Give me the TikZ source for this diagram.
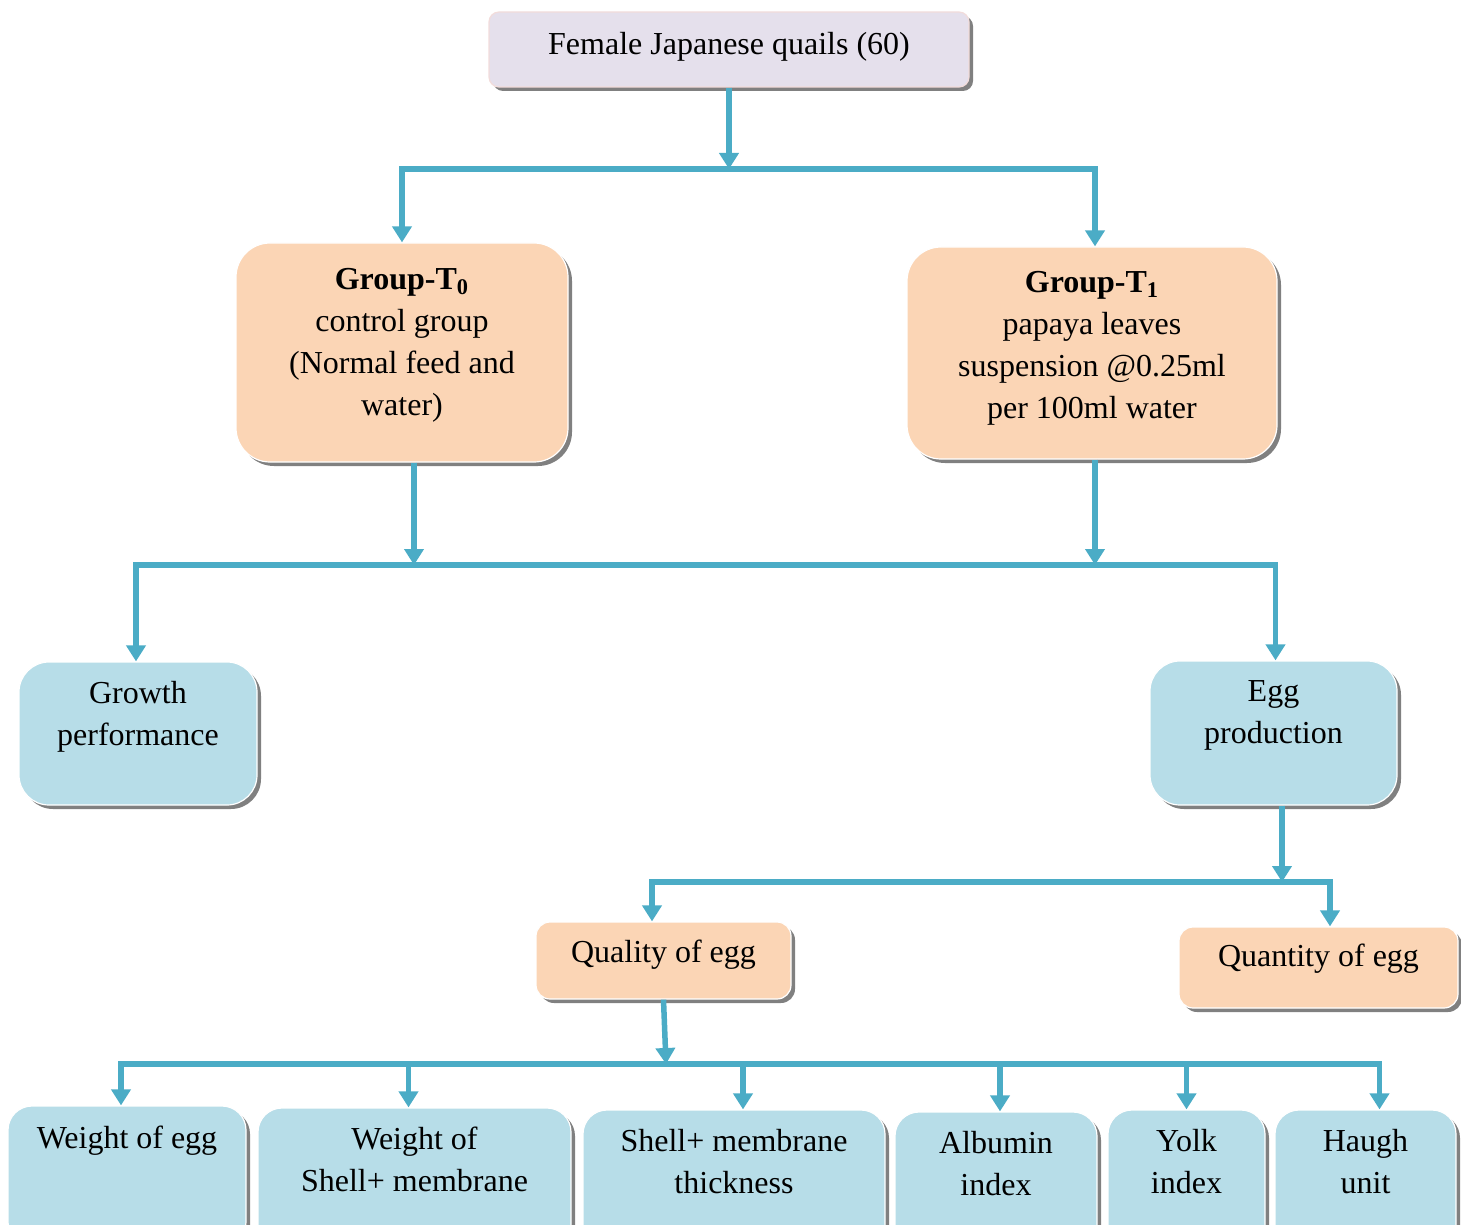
\documentclass[tikz,border=0pt]{standalone}
\usepackage{fontspec}
\setmainfont{Liberation Serif}
\usetikzlibrary{positioning,shapes,shadows,arrows.meta}
\definecolor{quailbg}{HTML}{E5E0EC}
\definecolor{quailline}{HTML}{F2DCDB}
\definecolor{peach}{HTML}{FBD5B5}
\definecolor{aqua}{HTML}{B7DDE8}
\definecolor{flowblue}{HTML}{4BACC6}
\definecolor{shadowgray}{HTML}{808080}

\begin{document}
\begin{tikzpicture}[x=0.5pt, y=-0.5pt,
    font=\fontsize{16}{21}\selectfont,
    box/.style={rectangle, align=center, inner sep=2pt, draw=white, line width=0.6pt,
        drop shadow={shadow xshift=2pt, shadow yshift=-2pt, fill=shadowgray, opacity=1}},
    titlebox/.style={box, fill=quailbg, draw=quailline, rounded corners=5pt, text depth=6.5pt},
    groupbox/.style={box, fill=peach, rounded corners=17pt},
    eggbox/.style={box, fill=peach, rounded corners=7pt},
    resultbox/.style={box, fill=aqua, rounded corners=15pt, text depth=20.5pt},
    measurebox/.style={box, fill=aqua, rounded corners=12pt, minimum height=70pt, text depth=19pt},
    flow/.style={draw=flowblue, line width=2.75pt},
    flowarrow/.style={flow, -{Triangle[width=9.5pt,length=8pt]}}]

    \useasboundingbox (0,0) rectangle (1461,1225);
    \clip (0,0) rectangle (1461,1225);

    \node (quails) [titlebox, minimum width=240pt, minimum height=37.5pt] at (729,49.5) {Female Japanese quails (60)};

    \node (groupT0) [groupbox, text depth=10.5pt, minimum width=166pt, minimum height=109.5pt] at (402,352.5)
        {\textbf{Group-T\textsubscript{0}}\\control group\\(Normal feed and\\water)};
    \node (groupT1) [groupbox, text depth=8pt, minimum width=185pt, minimum height=106pt] at (1092,353)
        {\textbf{Group-T\textsubscript{1}}\\papaya leaves\\suspension @0.25ml\\per 100ml water};

    \node (growth) [resultbox, minimum width=119pt, minimum height=71.5pt] at (138,733.5) {Growth\\performance};
    \node (eggprod) [resultbox, minimum width=123.5pt, minimum height=72pt] at (1273.5,733) {Egg\\production};

    \node (quality) [eggbox, text depth=9.5pt, minimum width=127.5pt, minimum height=38.5pt] at (663.5,960.5) {Quality of egg};
    \node (quantity) [eggbox, text depth=12.5pt, minimum width=139.5pt, minimum height=40.5pt] at (1318.5,967.5) {Quantity of egg};

    \node (weightegg) [measurebox, text depth=39pt, minimum width=119pt] at (127,1176) {Weight of egg};
    \node (weightshell) [measurebox, minimum width=156.5pt] at (414.5,1178) {Weight of\\Shell+ membrane};
    \node (thickness) [measurebox, minimum width=151pt] at (734,1180) {Shell+ membrane\\thickness};
    \node (albumin) [measurebox, minimum width=101pt] at (996,1182) {Albumin\\index};
    \node (yolk) [measurebox, minimum width=78.5pt] at (1186.5,1180) {Yolk\\index};
    \node (haugh) [measurebox, minimum width=90.5pt] at (1365.5,1180) {Haugh\\unit};

    \coordinate (split1) at (729,169);
    \draw[flowarrow] (quails) -- (split1);
    \draw[flowarrow] (split1) -| (groupT0.north);
    \draw[flowarrow] (split1) -| ([xshift=1.5pt]groupT1.north);

    \coordinate (split2a) at (414,565);
    \coordinate (split2b) at (1095,565);
    \draw[flowarrow] (groupT0.south -| split2a) -- (split2a);
    \draw[flowarrow] (groupT1.south -| split2b) -- (split2b);
    \draw[flow] (split2a) -- (split2b);
    \draw[flowarrow] (split2a) -| ([xshift=-1pt]growth.north);
    \draw[flowarrow] (split2b) -| ([xshift=1pt]eggprod.north);

    \coordinate (split3) at (1282,882);
    \draw[flowarrow] (eggprod.south -| split3) -- (split3);
    \draw[flowarrow] (split3) -| ([xshift=-5.75pt]quality.north);
    \draw[flowarrow] (split3) -| ([xshift=5.75pt]quantity.north);

    \coordinate (split4) at (666,1064);
    \draw[flowarrow] (quality.south) -- (split4);
    \draw[flowarrow] (split4) -| ([xshift=-3pt]weightegg.north);
    \draw[flowarrow] (split4) -| ([xshift=-3pt]weightshell.north);
    \draw[flowarrow] (split4) -| ([xshift=4.5pt]thickness.north);
    \draw[flowarrow] (split4) -| ([xshift=2pt]albumin.north);
    \draw[flowarrow] (split4) -| (yolk.north);
    \draw[flowarrow] (split4) -| ([xshift=7pt]haugh.north);

\end{tikzpicture}
\end{document}
